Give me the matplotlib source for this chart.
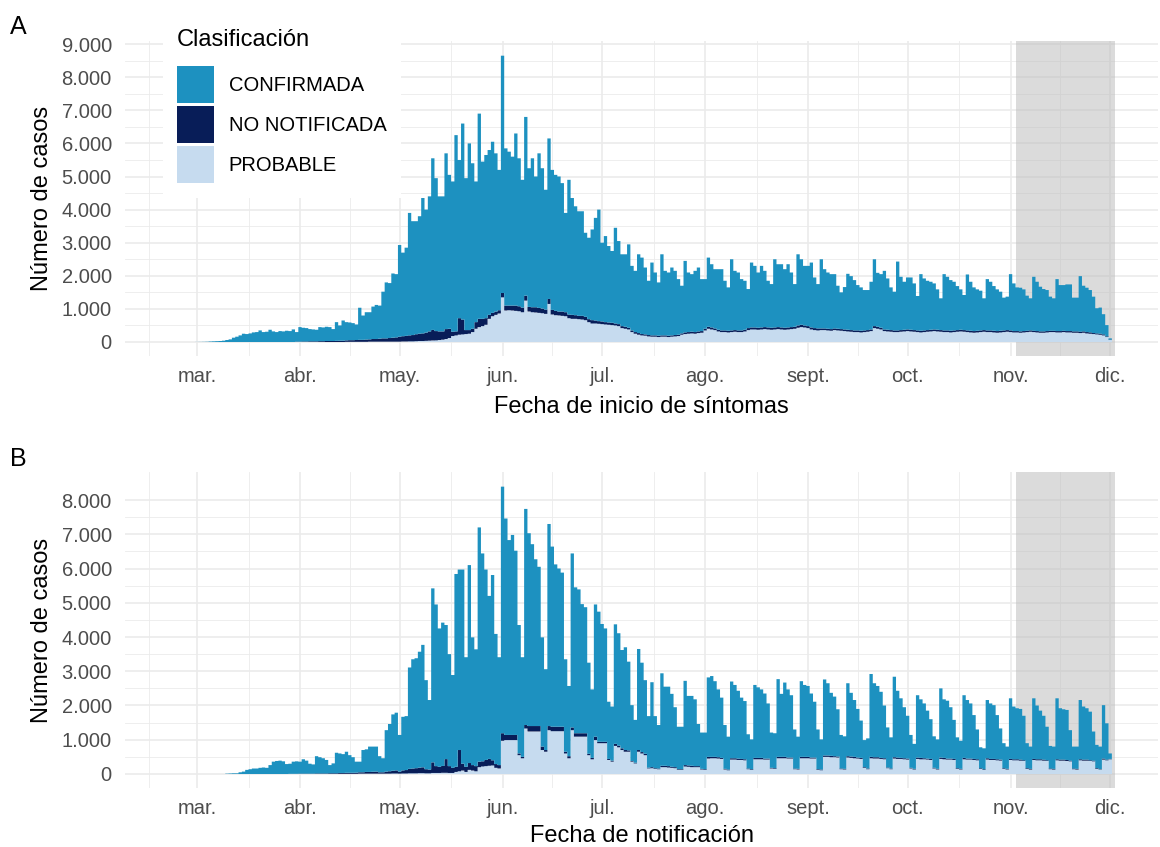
import numpy as np
import pandas as pd
import matplotlib
matplotlib.use("Agg")
import matplotlib.pyplot as plt
import matplotlib.dates as mdates
from matplotlib.patches import Patch

plt.rcParams['font.family'] = ['Liberation Sans', 'DejaVu Sans']

# --- data: casos diarios desde el 1 de marzo de 2020 ---
inicio = "2020-03-01"
meses = ["mar.", "abr.", "may.", "jun.", "jul.", "ago.", "sept.", "oct.", "nov.", "dic."]
clases = ["CONFIRMADA", "NO NOTIFICADA", "PROBABLE"]

# A: fecha de inicio de sintomas (total de casos por dia)
total_a = [
    2, 3, 5, 8, 15, 20, 25, 30, 40, 60,
    80, 130, 160, 200, 250, 240, 260, 290, 300, 350,
    300, 310, 370, 320, 300, 330, 320, 340, 330, 380,
    300, 450, 430, 420, 390, 380, 370, 450, 440, 460,
    450, 390, 600, 500, 650, 600, 590, 570, 530, 1035,
    800, 900, 900, 1070, 1120, 1100, 1520, 1800, 1780, 2070, 2050,
    2930, 2700, 2850, 3900, 3650, 3650, 3800, 4350, 4000, 4400,
    5550, 4950, 4400, 4400, 5700, 5050, 4850, 6250, 5500, 6600,
    4950, 6000, 5400, 4850, 6900, 5450, 5650, 5800, 6050, 5700, 5200,
    8650, 5850, 5750, 5600, 6300, 5550, 4900, 6800, 5250, 5550,
    5000, 5700, 5250, 4600, 6150, 5200, 5050, 5000, 4800, 3900,
    4900, 4350, 4100, 3950, 3950, 3300, 3150, 3400, 3750,
    4000, 3000, 3200, 2900, 2750, 3450, 3050, 2650, 2650, 2950,
    2300, 2150, 2650, 2550, 2250, 1850, 2400, 2100, 1800, 2650,
    2150, 2100, 2250, 2150, 1900, 1700, 2450, 2100, 2050, 2150,
    2250, 1900, 1900, 2550, 2350, 2200, 2200, 2200, 1850, 1650,
    2500, 2150, 2100, 1900, 1850, 1600, 2400, 2300, 2100, 2300,
    2150, 1850, 1750, 2500, 2350, 2350, 2200, 2350, 2100, 1750,
    2650, 2500, 2300, 2300, 2400, 1950, 1750, 2500, 2200, 2100,
    2050, 2050, 1700, 1500,
    1660, 2060, 1990, 1870, 1720, 1650, 1570, 1570, 1820, 2500,
    2090, 2050, 2150, 1920, 1650, 1520, 2430, 1970, 1820, 1950,
    1950, 1770, 1390, 2050, 1920, 1850, 1820, 1770, 1590, 1320,
    2050, 1970, 1870, 1820, 1690, 1590, 1420, 2040, 1820, 1650,
    1590, 1550, 1320, 1900, 1820, 1690, 1590, 1520, 1340, 1370,
    2050, 1770, 1650, 1640, 1590, 1400, 1320, 1970, 1820, 1670,
    1600, 1570, 1370, 1320, 1900, 1720, 1720, 1740, 1740, 1340,
    1340, 1990, 1700, 1640, 1570, 1370, 1020, 1040, 840, 510, 110,
]
prob_a = [
    0, 0, 0, 0, 0, 0, 0, 0, 0, 0, 0, 0, 0, 0, 0, 0, 0, 0, 0, 0,
    0, 0, 0, 0, 0, 0, 0, 0, 0, 0, 0, 0, 0, 0, 0, 0, 0, 0, 0, 0,
    0, 0, 0, 0, 0, 5, 5, 5, 5, 5, 5, 5, 10, 10, 10, 10, 10, 10, 10, 10,
    10, 10, 15, 15, 20, 20, 25, 30, 30, 35, 40, 45, 50, 60, 70, 90, 120,
    180, 200, 220, 230, 240, 250, 300,
    400, 450, 480, 520, 700, 780, 820, 860,
    1350, 950, 960, 950, 940, 930, 900,
    1250, 920, 900, 890, 880, 870, 850,
    1150, 830, 810, 800, 790, 780,
    720, 700, 700, 690, 680, 660,
    600, 560, 560, 550,
    540, 530, 520, 510, 500, 480,
    420, 400, 380,
    300, 250, 220, 200, 190,
    170, 160, 160, 150, 160, 160, 150, 160, 170, 180,
    220, 240, 250, 260, 250, 270, 280,
    350, 400, 380, 360,
    320, 300, 300, 290, 300, 310, 300, 300, 320,
    360, 380, 380, 370, 380, 390, 380, 370, 380, 390, 380, 370, 380, 390, 400,
    430, 450, 440, 420,
    380, 360, 350, 360, 360, 350, 340, 360, 350, 340, 330,
    320, 310, 300, 300, 290, 300, 310, 330,
    420, 400, 380,
    330, 320, 310, 300, 300, 310, 320, 330, 320, 310,
    300, 290, 300, 310, 320, 330, 320, 310, 300, 300,
    290, 300, 310, 320, 310, 300, 290, 280, 290, 300,
    310, 300, 300, 290, 280, 290, 300, 310, 300, 290,
    290, 280, 290, 300, 310, 300, 290, 280, 280, 290,
    300, 300, 290, 290,
    300, 290, 290, 280, 280, 270, 280, 260, 250, 240, 230, 220, 200, 150, 60,
]
nonot_a = [
    0, 0, 0, 0, 0, 0, 0, 0, 0, 0, 0, 0, 0, 0, 0,
    0, 0, 0, 0, 0, 0, 0, 0, 0, 0, 0, 0, 0, 0, 0,
    10, 10, 15, 15, 20, 20, 20, 25, 25, 30, 30, 30, 35, 40, 40,
    45, 50, 50, 55, 60, 60, 70, 70, 80, 80, 90, 100, 100, 110, 120, 130,
    150, 160, 170, 180, 190, 210, 220, 230, 250, 280, 320, 280, 260, 250, 300, 280,
    130, 120, 500, 450, 120, 110, 100,
    200, 250, 220, 200, 120, 100, 100, 100,
    130, 150, 140, 150, 160, 150, 140, 150, 140, 150, 160, 150, 140, 130, 150,
    140, 130, 120, 130, 120, 110, 120, 110, 100, 110, 100, 90, 100, 90,
    80, 80, 70, 70, 70, 60, 60, 60, 60, 50,
    50, 50, 50, 40, 40, 40, 40, 40, 40, 40,
    40, 40, 40, 40, 40, 40, 50, 50, 50, 50,
    50, 50, 50, 60, 60, 50, 50, 50, 50, 50,
    50, 50, 50, 50, 50, 60, 60, 60, 60, 60,
    60, 60, 60, 60, 60, 60, 60, 60, 60, 60,
    70, 70, 60, 60, 60, 60, 60, 50, 50, 50,
    50, 50, 50, 50, 50, 50, 50, 50, 50, 50,
    50, 50, 50, 60, 60, 50, 50, 50, 50, 50,
    50, 50, 50, 50, 50, 50, 50, 50, 50, 50,
    50, 50, 50, 50, 50, 50, 50, 50, 50, 50,
    50, 50, 50, 50, 50, 50, 50, 50, 50, 50,
    50, 50, 50, 50, 50, 40, 40, 40, 40, 40,
    40, 40, 40, 40, 40, 40, 40, 40, 40, 40,
    40, 40, 40, 40, 40, 40, 40, 40, 40, 30,
    30, 30, 30, 20, 10,
]

# B: fecha de notificacion
total_b = [
    0, 0, 0, 0, 0, 0, 0, 0, 0,
    10, 15, 20, 20, 50, 70, 120, 140, 160, 160,
    180, 190, 180, 260, 360, 380, 390, 370, 290, 300,
    360, 370, 360, 430, 390, 300, 280, 520, 490, 460, 410,
    260, 310, 620, 600, 580, 650, 550, 490, 360, 360,
    700, 720, 800, 800, 800, 520, 460,
    1280, 1460, 1740, 1790, 1140, 1670, 1690,
    3110, 3350, 3380, 3570, 3770, 2740, 2160,
    5420, 4950, 4250, 4420, 4350, 3500, 2890,
    5840, 5970, 5970, 3410, 6100, 3990, 3640,
    7200, 6440, 5970, 5200, 5810, 4090, 3410,
    8390, 7460, 6830, 6980, 6520, 4350, 3410,
    7740, 7030, 6710, 6270, 6050, 3990, 3060,
    7300, 6640, 6120, 6000, 5880, 3350, 2570,
    6440, 5450, 5390, 4960, 4870, 3250, 2470,
    4950, 4740, 4380, 4250, 2110, 1970,
    4370, 4110, 3620, 3700, 3280, 2010, 1580,
    3650, 3250, 2740, 1690, 2680, 1690, 1430,
    2940, 2550, 2550, 2340, 1950, 1380, 1380,
    2720, 2280, 2280, 2180, 1460, 1210, 1210,
    2820, 2860, 2710, 2470, 2230, 1430, 1090,
    2700, 2600, 2430, 2230, 2130, 1160, 1010,
    2600, 2530, 2470, 2350, 2060, 1210, 1190,
    2770, 2340, 2670, 2470, 2300, 1300, 1090,
    2710, 2600, 2570, 2350, 2110, 1300, 1010,
    2760, 2650, 2370, 2260, 1890, 1140, 1100,
    2650, 2370, 2160, 1900, 1560, 990, 1040,
    2920, 2650, 2570, 2400, 2000, 1360, 1070,
    2840, 2430, 2210, 1950, 1700, 1140, 880,
    2300, 2180, 2060, 1850, 1600, 1100, 1010,
    2500, 2180, 2140, 1950, 1580, 1070, 970,
    2300, 2160, 2060, 1720, 1300, 780, 750,
    2160, 2060, 2010, 1720, 1330, 900, 800,
    2210, 1970, 1920, 1900, 1700, 900, 800,
    2210, 2000, 1850, 1700, 1380, 820, 800,
    2210, 1920, 1890, 1870, 1280, 800, 800,
    2160, 1970, 1920, 1820, 1240, 850, 800,
    2010, 1480, 600,
]
prob_b = [
    0, 0, 0, 0, 0, 0, 0, 0, 0, 0, 0, 0, 0, 0, 0, 0, 0, 0, 0, 0,
    0, 0, 0, 0, 0, 0, 0, 0, 0, 0, 0, 0, 0, 0, 0, 0, 0, 0, 0, 0,
    0, 0, 0, 5, 5, 5, 5, 5, 5, 10, 10, 10, 10, 10, 10, 10, 10,
    10, 10, 15, 15, 10, 15, 15, 20, 20, 20, 25, 25, 20, 20, 30, 30, 30, 35, 35, 30, 30,
    60, 80, 100, 60, 120, 100, 80,
    200, 220, 230, 240, 250, 180, 160,
    970, 990, 990, 990, 990, 550, 460,
    1330, 1240, 1240, 1240, 1240, 700, 650,
    1280, 1250, 1250, 1250, 1250, 600, 460,
    1280, 1090, 1090, 1090, 1090, 550, 430,
    990, 900, 900, 900, 410, 360,
    820, 780, 700, 650, 650, 360, 310,
    650, 600, 550, 165, 170, 150, 140,
    200, 200, 190, 180, 170, 120, 120,
    220, 210, 200, 200, 200, 130, 120,
    450, 460, 460, 450, 440, 130, 110,
    420, 420, 410, 410, 400, 140, 120,
    430, 430, 430, 420, 420, 160, 150,
    460, 460, 460, 450, 450, 140, 130,
    460, 460, 460, 450, 450, 120, 110,
    500, 500, 490, 490, 480, 140, 130,
    480, 470, 460, 450, 440, 180, 140,
    460, 450, 450, 440, 430, 170, 140,
    450, 440, 440, 430, 420, 160, 130,
    440, 430, 430, 420, 410, 160, 130,
    440, 430, 420, 420, 410, 150, 130,
    430, 420, 420, 410, 400, 150, 120,
    420, 410, 410, 400, 390, 150, 130,
    410, 400, 400, 390, 380, 150, 130,
    410, 400, 400, 390, 380, 140, 130,
    400, 390, 390, 380, 370, 140, 130,
    400, 390, 390, 380, 370, 150, 130,
    420, 400, 430,
]
nonot_b = [
    0, 0, 0, 0, 0, 0, 0, 0, 0, 0, 0, 0, 0, 0,
    0, 0, 0, 0, 0, 0, 0, 0, 0, 0, 0, 0, 0, 0,
    5, 5, 5, 10, 10, 10, 10, 10, 15, 15, 15, 15, 20, 20, 20,
    25, 25, 30, 30, 30, 35, 40, 40, 50, 50, 55, 60, 40, 40,
    60, 70, 80, 90, 60, 90, 100, 130, 140, 150, 160, 170, 120, 110,
    310, 200, 180, 200, 400, 200, 150,
    150, 620, 200, 150, 200, 160, 150, 160, 150, 180, 200, 150, 110, 100,
    220, 150, 150, 150, 150, 50, 40, 100, 160, 160, 160, 160, 100, 50,
    120, 130, 130, 130, 130, 50, 60, 80, 100, 100, 100, 100, 40, 40,
    100, 40, 40, 40, 30, 30,
    60, 50, 50, 50, 40, 20, 20,
    50, 40, 40, 20, 30, 20, 20,
    40, 40, 40, 30, 30, 20, 20,
    40, 40, 40, 30, 30, 20, 20,
    50, 40, 40, 40, 30, 20, 20,
    40, 40, 40, 30, 30, 20, 20,
    40, 40, 40, 30, 30, 20, 20,
    40, 40, 40, 30, 30, 20, 20,
    40, 40, 40, 30, 30, 20, 20,
    40, 40, 40, 30, 30, 20, 20,
    40, 40, 40, 30, 30, 20, 20,
    40, 40, 40, 30, 30, 20, 20,
    40, 40, 30, 30, 30, 20, 20,
    40, 40, 30, 30, 30, 20, 20,
    40, 40, 30, 30, 30, 20, 20,
    40, 30, 30, 30, 30, 20, 20,
    40, 30, 30, 30, 30, 20, 20,
    30, 30, 30, 30, 20, 20, 20,
    30, 30, 30, 30, 20, 20, 20,
    30, 30, 30, 30, 20, 20, 20,
    30, 30, 30, 20, 20, 20, 10,
    30, 20, 10,
]

# periodo sombreado (ultimas semanas, datos incompletos)
sombra_ini = "2020-11-03"
sombra_fin = "2020-12-02"

# colores
col_conf = "#1D91C0"
col_nonot = "#081D58"
col_prob = "#C6DBEF"
gris_texto = "#4D4D4D"
grid_col = "#EBEBEB"

fig = plt.figure(figsize=(11.6, 8.47), dpi=100)
ax_a = fig.add_axes([125 / 1160, 1 - 356 / 847, 1033 / 1160, 315 / 847])
ax_b = fig.add_axes([125 / 1160, 1 - 788 / 847, 1033 / 1160, 316 / 847])

x0 = mdates.date2num(pd.Timestamp(inicio))
ticks_mes = mdates.date2num(pd.date_range("2020-03-01", "2020-12-01", freq="MS"))
ticks_min = np.concatenate([[x0 - 14.5], (ticks_mes[:-1] + ticks_mes[1:]) / 2])


def fmt_miles(v, pos):
    return f"{int(v):,}".replace(",", ".")


def panel(ax, total, prob, nonot, ymax, ylim, xlabel, xpad):
    dias = mdates.date2num(pd.date_range(inicio, periods=len(total), freq="D"))
    bordes = np.append(dias - 0.5, dias[-1] + 0.5)
    prob = np.array(prob, dtype=float)
    nonot = np.array(nonot, dtype=float)
    conf = np.clip(np.array(total, dtype=float) - prob - nonot, 0, None)

    # barras apiladas: probable abajo, no notificada, confirmada arriba
    ax.stairs(prob, bordes, baseline=0, fill=True, color=col_prob, lw=0, zorder=2)
    ax.stairs(prob + nonot, bordes, baseline=prob, fill=True, color=col_nonot, lw=0, zorder=2)
    ax.stairs(prob + nonot + conf, bordes, baseline=prob + nonot, fill=True,
              color=col_conf, lw=0, zorder=2)

    s0 = mdates.date2num(pd.Timestamp(sombra_ini)) - 0.5
    s1 = mdates.date2num(pd.Timestamp(sombra_fin)) + 0.5
    ax.axvspan(s0, s1, color="#BEBEBE", alpha=0.55, lw=0, zorder=1)

    ax.set_xlim(x0 - 21.7, x0 + 289.4)
    ax.set_ylim(*ylim)
    ax.set_xticks(ticks_mes)
    ax.set_xticklabels(meses)
    ax.set_xticks(ticks_min, minor=True)
    ax.set_yticks(np.arange(0, ymax + 1, 1000))
    ax.set_yticks(np.arange(500, ymax + 1, 1000), minor=True)
    ax.yaxis.set_major_formatter(plt.FuncFormatter(fmt_miles))

    ax.grid(which="major", color=grid_col, lw=1.2, zorder=0)
    ax.grid(which="minor", color=grid_col, lw=0.6, zorder=0)
    ax.set_axisbelow(True)
    for sp in ax.spines.values():
        sp.set_visible(False)
    ax.tick_params(which="both", length=0, labelsize=14.5, labelcolor=gris_texto)
    ax.tick_params(axis="x", pad=8)
    ax.tick_params(axis="y", pad=9.5)
    ax.set_ylabel("Número de casos", fontsize=17, labelpad=6)
    ax.set_xlabel(xlabel, fontsize=17, labelpad=xpad)


panel(ax_a, total_a, prob_a, nonot_a, 9000, (-423, 9094), "Fecha de inicio de síntomas", 7)
panel(ax_b, total_b, prob_b, nonot_b, 8000, (-409, 8818), "Fecha de notificación", 5)

# leyenda
handles = [Patch(facecolor=col_conf, edgecolor="none"),
           Patch(facecolor=col_nonot, edgecolor="none"),
           Patch(facecolor=col_prob, edgecolor="none")]
leg = ax_a.legend(handles, clases, title="Clasificación", loc="upper left",
                  bbox_to_anchor=(163 / 1160, 1 - 15 / 847), bbox_transform=fig.transFigure,
                  fontsize=14.5, title_fontsize=17, handlelength=1.83, handleheight=2.45,
                  labelspacing=0.15, handletextpad=0.74, borderpad=0.7, borderaxespad=0,
                  alignment="left", fancybox=False, framealpha=1)
leg.get_frame().set_edgecolor("none")
leg.get_frame().set_facecolor("white")
leg._legend_box.sep = 11  # espacio entre titulo y claves

# etiquetas de panel
fig.text(10 / 1160, 1 - 15 / 847, "A", fontsize=18, va="top", ha="left")
fig.text(10 / 1160, 1 - 447 / 847, "B", fontsize=18, va="top", ha="left")

fig.savefig("out.png", dpi=100)
